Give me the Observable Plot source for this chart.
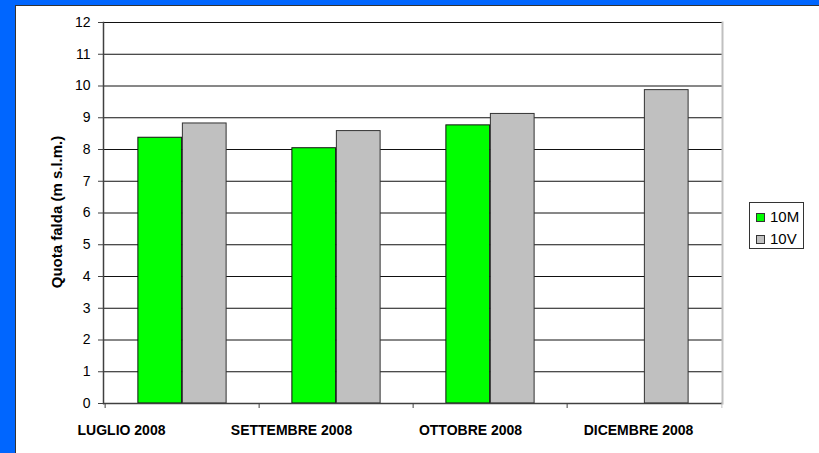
<!DOCTYPE html>
<html>
<head>
<meta charset="utf-8">
<script src="https://cdn.jsdelivr.net/npm/d3@7"></script>
<script src="https://cdn.jsdelivr.net/npm/@observablehq/plot@0.6"></script>
<style>
  html, body { margin: 0; padding: 0; }
  body { width: 819px; height: 453px; background: #0066FF; position: relative; overflow: hidden; font-family: "Liberation Sans", Arial, sans-serif; }
  #panel { position: absolute; left: 15px; top: 5px; width: 804px; height: 448px; background: #fff; border-left: 1px solid #333; border-top: 1px solid #333; box-sizing: border-box; }
  #chart { position: absolute; left: 16px; top: 6px; }
  #legend { position: absolute; left: 749px; top: 202px; width: 55px; height: 47px; border: 1px solid #333; box-sizing: border-box; background: #fff; font-size: 15px; color: #000; }
  .item { position: absolute; left: 6px; height: 16px; line-height: 16px; white-space: nowrap; }
  .sw { display: inline-block; width: 7px; height: 7px; border: 1px solid #333; vertical-align: middle; margin-right: 5px; position: relative; top: -1px; }
</style>
</head>
<body>
<div id="panel"></div>
<div id="chart"></div>
<div id="legend"></div>
<script>
const months = ["LUGLIO 2008", "SETTEMBRE 2008", "OTTOBRE 2008", "DICEMBRE 2008"];
const seriesNames = ["10M", "10V"];
const values10M = [8.37, 8.04, 8.76, null];
const values10V = [8.82, 8.58, 9.12, 9.87];
const yTicks = [0, 1, 2, 3, 4, 5, 6, 7, 8, 9, 10, 11, 12];
const seriesColors = ["#00FF00", "#C0C0C0"];
const yTitle = "Quota falda (m s.l.m.)";

const rows10M = months.map((m, i) => ({month: m, series: "10M", value: values10M[i]})).filter(d => d.value != null);
const rows10V = months.map((m, i) => ({month: m, series: "10V", value: values10V[i]})).filter(d => d.value != null);

const W = 803, H = 447;
const mL = 87, mR = 97, mT = 16, mB = 50;
const step = (W - mL - mR) / months.length;
const barW = step * 0.2875;
const center = step * 0.5;
// the original's category labels sit left of their group centres
const labelShift = [-61, -45, -20, -6];

const plot = Plot.plot({
  width: W,
  height: H,
  marginLeft: mL,
  marginRight: mR,
  marginTop: mT,
  marginBottom: mB,
  style: {fontFamily: "'Liberation Sans', Arial, sans-serif", color: "#000", background: "transparent"},
  x: {domain: months, paddingInner: 0, paddingOuter: 0, axis: null},
  y: {domain: [0, 12], axis: null},
  color: {domain: seriesNames, range: seriesColors},
  marks: [
    Plot.gridY(yTicks, {stroke: "#111", strokeOpacity: 1, strokeWidth: 1}),
    Plot.barY(rows10M, {x: "month", y: "value", fill: "series", stroke: "#111", strokeWidth: 1,
      insetLeft: center - barW, insetRight: step - center}),
    Plot.barY(rows10V, {x: "month", y: "value", fill: "series", stroke: "#333", strokeWidth: 1,
      insetLeft: center, insetRight: step - center - barW}),
    Plot.frame({anchor: "right", stroke: "#c0c0c0", strokeWidth: 2}),
    Plot.frame({anchor: "left", stroke: "#404040", strokeWidth: 1.5}),
    Plot.ruleY([0], {stroke: "#404040", strokeWidth: 1.5}),
    Plot.axisY({ticks: yTicks, tickSize: 5, tickPadding: 8, fontSize: 14, label: null, stroke: "#404040"}),
    Plot.axisX({tickSize: 5, tickFormat: () => "", dx: -step / 2, stroke: "#404040", label: null}),
    Plot.axisX({ticks: [months[months.length - 1]], tickSize: 5, tickFormat: () => "", dx: step / 2, stroke: "#c0c0c0", label: null}),
    ...months.map((m, i) => Plot.axisX({ticks: [m], tickSize: 0, tickPadding: 22, fontSize: 14, fontWeight: "bold", label: null, dx: labelShift[i]})),
    Plot.text([yTitle], {frameAnchor: "left", textAnchor: "middle", rotate: -90, dx: -46, dy: -1, fontSize: 15, fontWeight: "bold", fill: "#000"})
  ]
});
document.getElementById("chart").appendChild(plot);

const legend = document.getElementById("legend");
seriesNames.forEach((s, i) => {
  const item = document.createElement("div");
  item.className = "item";
  item.style.top = (6 + i * 22) + "px";
  const sw = document.createElement("span");
  sw.className = "sw";
  sw.style.background = seriesColors[i];
  item.appendChild(sw);
  item.appendChild(document.createTextNode(s));
  legend.appendChild(item);
});
</script>
</body>
</html>
